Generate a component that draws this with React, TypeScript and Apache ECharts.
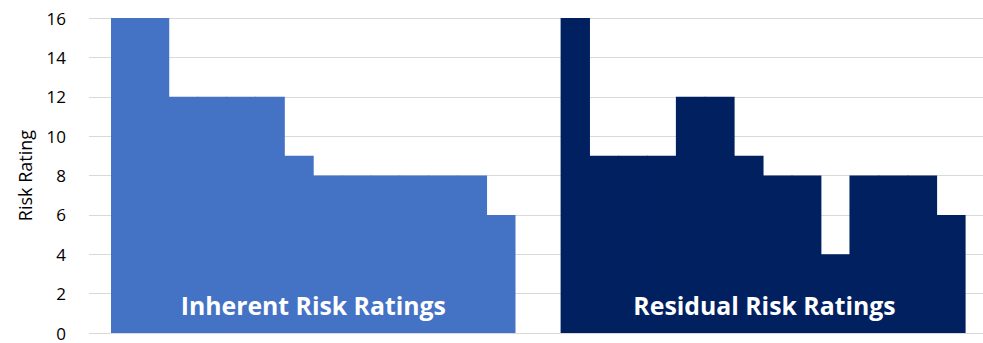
import React, { useEffect, useRef } from "react";
import * as echarts from "echarts";

const inherentCats = ["I1","I2","I3","I4","I5","I6","I7","I8","I9","I10","I11","I12","I13","I14"];
const inherentValues = [16, 16, 12, 12, 12, 12, 9, 8, 8, 8, 8, 8, 8, 6];
const residualCats = ["R1","R2","R3","R4","R5","R6","R7","R8","R9","R10","R11","R12","R13","R14"];
const residualValues = [16, 9, 9, 9, 12, 12, 9, 8, 8, 4, 8, 8, 8, 6];
const yTicks = { min: 0, max: 16, interval: 2 };
const groupLabels = ["Inherent Risk Ratings", "Residual Risk Ratings"];

export default function App() {
  const ref = useRef<HTMLDivElement>(null);
  useEffect(() => {
    if (!ref.current) return;
    const chart = echarts.init(ref.current, null, { renderer: "svg" });
    const font = "'Open Sans', 'Noto Sans', sans-serif";
    const top = 18;
    const bottom = 10;
    const hiddenY = (gridIndex: number) => ({
      type: "value", gridIndex, min: yTicks.min, max: yTicks.max, interval: yTicks.interval,
      show: false, splitLine: { show: false },
    });
    const barX = (gridIndex: number, data: string[]) => ({
      type: "category", gridIndex, data, show: false,
    });
    chart.setOption({
      animation: false,
      backgroundColor: "#ffffff",
      grid: [
        { left: 89, right: 0, top, bottom },
        { left: 111, width: 404.5, top, bottom },
        { left: 560.6, width: 405, top, bottom },
      ],
      xAxis: [
        { type: "category", gridIndex: 0, data: [], show: false },
        barX(1, inherentCats),
        barX(2, residualCats),
      ],
      yAxis: [
        {
          type: "value", gridIndex: 0, min: yTicks.min, max: yTicks.max, interval: yTicks.interval,
          name: "Risk Rating", nameLocation: "middle", nameGap: 55,
          nameTextStyle: { fontFamily: font, fontSize: 18, color: "#000" },
          axisLine: { show: false }, axisTick: { show: false },
          axisLabel: { fontFamily: font, fontSize: 17, lineHeight: 17, color: "#000", margin: 23 },
          splitLine: { lineStyle: { color: "#d9d9d9", width: 1 } },
        },
        hiddenY(1),
        hiddenY(2),
      ],
      series: [
        {
          type: "bar", xAxisIndex: 1, yAxisIndex: 1, data: inherentValues,
          barWidth: 29.8, barCategoryGap: 0, itemStyle: { color: "#4472C4" },
        },
        {
          type: "bar", xAxisIndex: 2, yAxisIndex: 2, data: residualValues,
          barWidth: 29.8, barCategoryGap: 0, itemStyle: { color: "#002060" },
        },
      ],
      graphic: [
        {
          type: "text", x: 313.3, y: 305, z: 10,
          style: { text: groupLabels[0], fill: "#ffffff", font: `bold 24.8px ${font}`, align: "center", verticalAlign: "middle" },
        },
        {
          type: "text", x: 764.5, y: 305, z: 10,
          style: { text: groupLabels[1], fill: "#ffffff", font: `bold 24.8px ${font}`, align: "center", verticalAlign: "middle" },
        },
      ],
    });
    return () => chart.dispose();
  }, []);
  return (
    <div
      ref={ref}
      style={{ position: "fixed", left: 0, top: 0, width: 983, height: 343 }}
    />
  );
}
